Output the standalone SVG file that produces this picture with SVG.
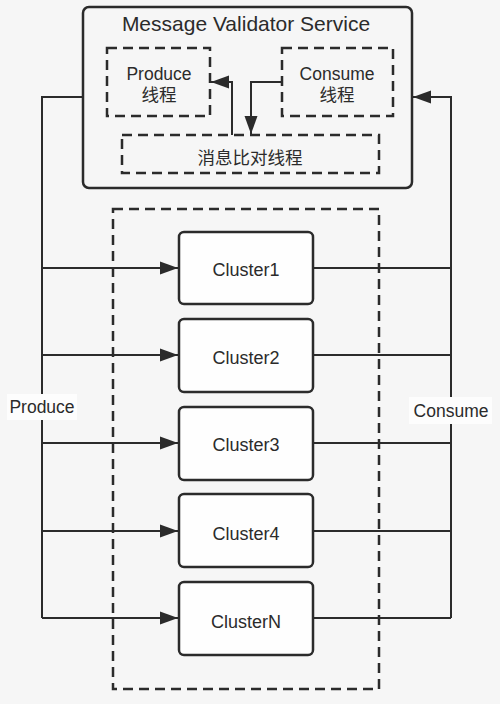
<svg xmlns="http://www.w3.org/2000/svg" width="500" height="704" viewBox="0 0 500 704">
<defs>
<marker id="ahs" markerWidth="18" markerHeight="14" refX="18" refY="7" orient="auto" markerUnits="userSpaceOnUse" viewBox="0 0 18 14">
<path d="M0,0.5 L18,7 L0,13.5 z" fill="#2b2b2b"/>
</marker>
</defs>
<style>
text{font-family:"Liberation Sans","Noto Sans CJK SC",sans-serif;fill:#2b2b2b}
.box{fill:#fefefe;stroke:#2b2b2b;stroke-width:2.5}
.dash{fill:none;stroke:#2b2b2b;stroke-width:2.5;stroke-dasharray:10,6}
.ln{fill:none;stroke:#2b2b2b;stroke-width:2}
.ct{font-size:18px;text-anchor:middle}
.t{font-size:17.5px;text-anchor:middle}
</style>
<rect width="500" height="704" fill="#f6f6f6"/>

<g id="outer-dashed">
<rect x="113" y="209" width="266" height="480" class="dash"/>
</g>

<g id="connectors">
<path class="ln" d="M83,97 H42 V618"/>
<path class="ln" d="M42,268 H178" marker-end="url(#ahs)"/>
<path class="ln" d="M42,355 H178" marker-end="url(#ahs)"/>
<path class="ln" d="M42,443 H178" marker-end="url(#ahs)"/>
<path class="ln" d="M42,531 H178" marker-end="url(#ahs)"/>
<path class="ln" d="M42,618 H178" marker-end="url(#ahs)"/>
<path class="ln" d="M451,618 V97 H413" marker-end="url(#ahs)"/>
<path class="ln" d="M313,268 H451"/>
<path class="ln" d="M313,355 H451"/>
<path class="ln" d="M313,443 H451"/>
<path class="ln" d="M313,531 H451"/>
<path class="ln" d="M313,618 H451"/>
<path class="ln" d="M232,135 V82 H211" marker-end="url(#ahs)"/>
<path class="ln" d="M282,82 H251 V134" marker-end="url(#ahs)"/>
</g>

<g id="service">
<rect x="83" y="7" width="329" height="181" rx="6" class="box" fill-opacity="0"/>
<text x="246" y="31" font-size="21" text-anchor="middle">Message Validator Service</text>
</g>
<g id="produce-thread">
<rect x="107" y="48" width="103" height="68" class="dash"/>
<text x="159" y="80" class="t">Produce</text>
<text x="159" y="101" class="t">线程</text>
</g>
<g id="consume-thread">
<rect x="282" y="48" width="111" height="68" class="dash"/>
<text x="337" y="80" class="t">Consume</text>
<text x="337" y="101" class="t">线程</text>
</g>
<g id="compare-thread">
<rect x="122" y="135" width="257" height="38" class="dash"/>
<text x="250" y="164" class="t">消息比对线程</text>
</g>

<g id="cluster1"><rect x="179" y="232" width="134" height="72" rx="5" class="box"/><text x="246" y="276" class="ct">Cluster1</text></g>
<g id="cluster2"><rect x="179" y="319" width="134" height="73" rx="5" class="box"/><text x="246" y="364" class="ct">Cluster2</text></g>
<g id="cluster3"><rect x="179" y="407" width="134" height="73" rx="5" class="box"/><text x="246" y="451" class="ct">Cluster3</text></g>
<g id="cluster4"><rect x="179" y="494" width="134" height="73" rx="5" class="box"/><text x="246" y="540" class="ct">Cluster4</text></g>
<g id="clusterN"><rect x="179" y="582" width="134" height="73" rx="5" class="box"/><text x="246" y="628" class="ct">ClusterN</text></g>

<g id="produce-label">
<rect x="7" y="394" width="70" height="26" fill="#fdfdfd"/>
<text x="42" y="413" class="t">Produce</text>
</g>
<g id="consume-label">
<rect x="409" y="397" width="83" height="27" fill="#fdfdfd"/>
<text x="451" y="417" class="t">Consume</text>
</g>
</svg>
